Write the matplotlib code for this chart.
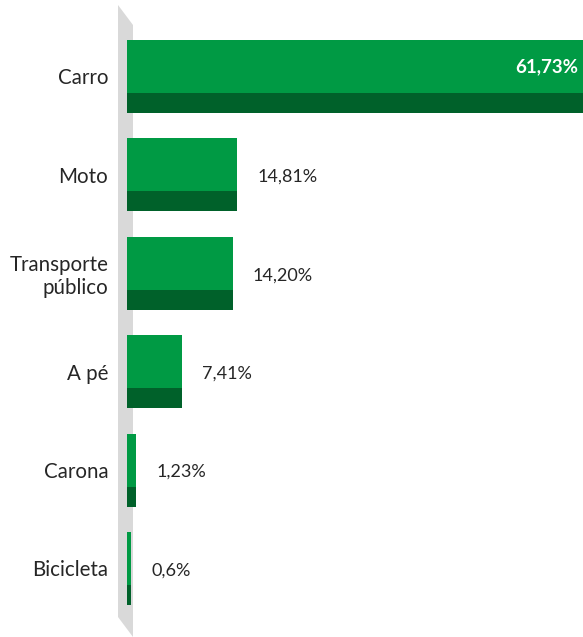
import matplotlib
matplotlib.use("Agg")
import matplotlib.pyplot as plt
from matplotlib.patches import Polygon

categories = ["Carro", "Moto", "Transporte\npúblico", "A pé", "Carona", "Bicicleta"]
values = [61.73, 14.81, 14.20, 7.41, 1.23, 0.6]
value_labels = ["61,73%", "14,81%", "14,20%", "7,41%", "1,23%", "0,6%"]

W, H = 583, 637
DPI = 100
LIGHT = "#009a44"
DARK = "#00612a"
WALL = "#d9d9d9"

plt.rcParams["font.family"] = ["Lato", "DejaVu Sans"]

fig = plt.figure(figsize=(W / DPI, H / DPI), dpi=DPI)

# background decoration axes in pixel coordinates (grey 3D wall)
bg = fig.add_axes([0, 0, 1, 1])
bg.set_xlim(0, W)
bg.set_ylim(H, 0)
bg.axis("off")
bg.add_patch(Polygon([(118, 5), (133, 25), (133, 637), (118, 617)],
                     closed=True, facecolor=WALL, edgecolor="none"))

# main axes
x0_px = 127
scale = 7.43  # px per percent
ax = fig.add_axes([x0_px / W, 0, (W - x0_px) / W, 1])
ax.patch.set_alpha(0)
ax.set_xlim(0, (W - x0_px) / scale)
y0_px, step = 76.5, 98.4
ax.set_ylim((H - y0_px) / step, (0 - y0_px) / step)

n = len(categories)
ypos = list(range(n))
total_h = 73 / step
light_h = 53 / step
dark_h = 20 / step
light_c = [y - total_h / 2 + light_h / 2 for y in ypos]
dark_c = [y + total_h / 2 - dark_h / 2 for y in ypos]

ax.barh(light_c, values, height=light_h, color=LIGHT, edgecolor="none")
ax.barh(dark_c, values, height=dark_h, color=DARK, edgecolor="none")

for i, (v, lab) in enumerate(zip(values, value_labels)):
    if i == 0:
        ax.annotate(lab, xy=(ax.get_xlim()[1], light_c[i]), xytext=(-5, 0),
                    textcoords="offset pixels", ha="right", va="center",
                    color="white", fontweight="bold", fontsize=13.5)
    else:
        ax.annotate(lab, xy=(v, ypos[i] + 0.02), xytext=(20, 0),
                    textcoords="offset pixels", ha="left", va="center",
                    color="#262626", fontsize=13)

ax.set_yticks(ypos)
ax.set_yticklabels(categories, fontsize=14.8, color="#262626")
ax.tick_params(axis="y", length=0, pad=13.5)
ax.set_xticks([])
for s in ax.spines.values():
    s.set_visible(False)

fig.savefig("out.png", dpi=DPI)
